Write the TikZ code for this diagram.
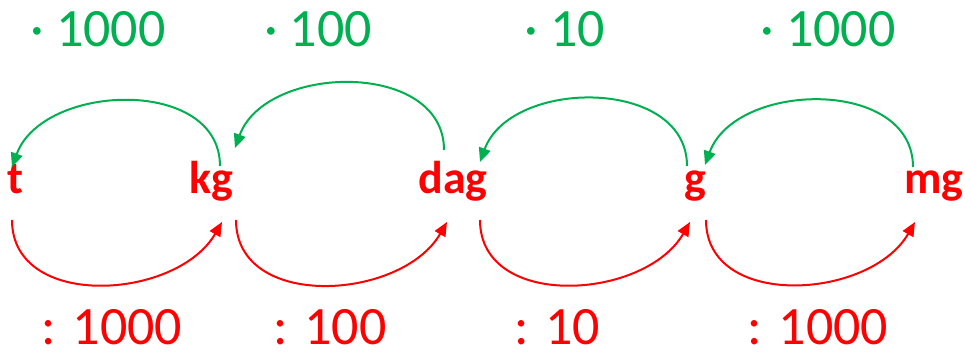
\documentclass[tikz,border=0pt]{standalone}
\usepackage{fontspec}
\setmainfont{Carlito}
\usepackage{xcolor}
\definecolor{mulgreen}{RGB}{0,176,80}
\definecolor{divred}{RGB}{255,0,0}
\usetikzlibrary{arrows.meta}

\begin{document}
\begin{tikzpicture}[x=1pt, y=1pt,
	unit/.style={anchor=base, inner sep=0pt, color=divred, font=\fontsize{46}{50}\selectfont\bfseries},
	factor/.style={anchor=base, inner sep=0pt, font=\fontsize{54}{60}\selectfont},
	mul/.style={draw=mulgreen, line width=2pt, -{Triangle[length=14pt,width=12pt]}},
	dvd/.style={draw=divred, line width=2pt, -{Triangle[length=14pt,width=12pt]}}]
	\useasboundingbox (0,0) rectangle (965,354);
	% units
	\node[unit] (t) at (15,161) {t};
	\node[unit] (kg) at (211,161) {kg};
	\node[unit] (dag) at (453,161) {dag};
	\node[unit] (g) at (695,161) {g};
	\node[unit] (mg) at (934,161) {mg};
	% factors
	\node[factor, color=mulgreen] (m1) at (98,307) {· 1000};
	\node[factor, color=mulgreen] (m2) at (318,307) {· 100};
	\node[factor, color=mulgreen] (m3) at (565,307) {· 10};
	\node[factor, color=mulgreen] (m4) at (828,307) {· 1000};
	\node[factor, color=divred] (d1) at (112,10) {: 1000};
	\node[factor, color=divred] (d2) at (330,10) {: 100};
	\node[factor, color=divred] (d3) at (557,10) {: 10};
	\node[factor, color=divred] (d4) at (818,10) {: 1000};
	% top arrows
	\draw[mul] ([shift={(9,27)}]kg.base) to[out=90, in=70, looseness=1.1] ([shift={(-3,26)}]t.base);
	\draw[mul] ([shift={(-9,43)}]dag.base) to[out=90, in=70, looseness=1.1] ([shift={(24,45)}]kg.base);
	\draw[mul] ([shift={(-8,27)}]g.base) to[out=90, in=70, looseness=1.1] ([shift={(27,31)}]dag.base);
	\draw[mul] ([shift={(-21,26)}]mg.base) to[out=90, in=70, looseness=1.1] ([shift={(10,28)}]g.base);
	% bottom arrows
	\draw[dvd] ([shift={(-3,-27)}]t.base) to[out=-90, in=-120, looseness=1.1] ([shift={(11,-29)}]kg.base);
	\draw[dvd] ([shift={(25,-27)}]kg.base) to[out=-90, in=-120, looseness=1.1] ([shift={(-6,-29)}]dag.base);
	\draw[dvd] ([shift={(27,-27)}]dag.base) to[out=-90, in=-120, looseness=1.1] ([shift={(-5,-29)}]g.base);
	\draw[dvd] ([shift={(11,-27)}]g.base) to[out=-90, in=-120, looseness=1.1] ([shift={(-19,-29)}]mg.base);
\end{tikzpicture}
\end{document}
